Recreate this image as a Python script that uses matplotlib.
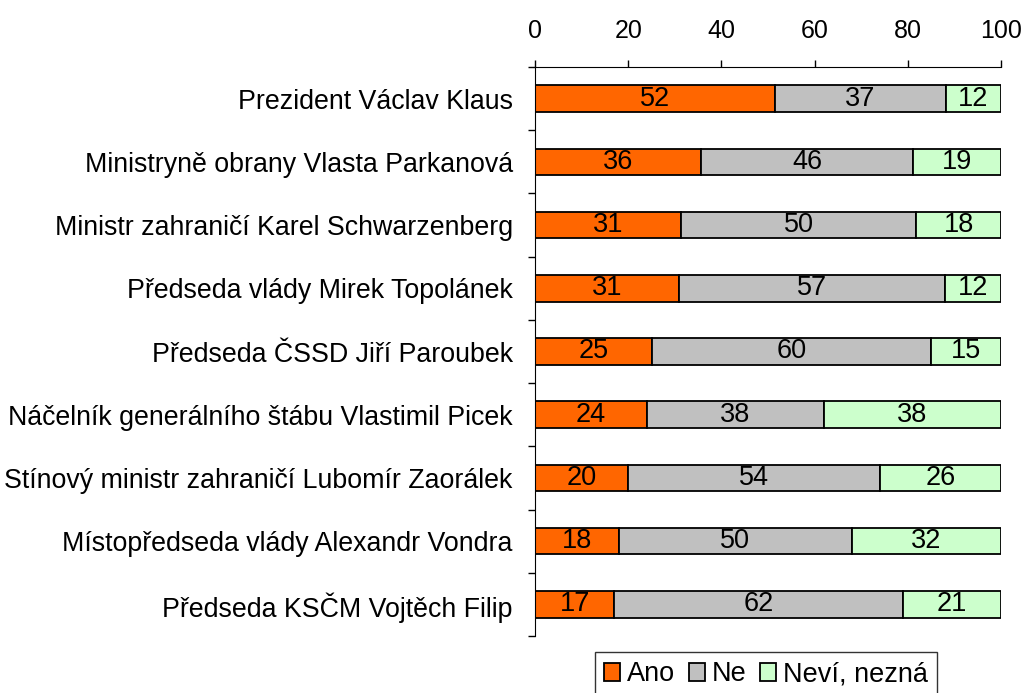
import numpy as np
import matplotlib.pyplot as plt
from matplotlib.ticker import MultipleLocator, FixedLocator

plt.rcParams['font.family'] = ['Liberation Sans', 'DejaVu Sans']

# data
people = ['Prezident Václav Klaus',
          'Ministryně obrany Vlasta Parkanová',
          'Ministr zahraničí Karel Schwarzenberg',
          'Předseda vlády Mirek Topolánek',
          'Předseda ČSSD Jiří Paroubek',
          'Náčelník generálního štábu Vlastimil Picek',
          'Stínový ministr zahraničí Lubomír Zaorálek',
          'Místopředseda vlády Alexandr Vondra',
          'Předseda KSČM Vojtěch Filip']
ano = [52, 36, 31, 31, 25, 24, 20, 18, 17]
ne = [37, 46, 50, 57, 60, 38, 54, 50, 62]
nevi = [12, 19, 18, 12, 15, 38, 26, 32, 21]
series = ['Ano', 'Ne', 'Neví, nezná']
colors = ['#FF6600', '#C0C0C0', '#CCFFCC']

fig = plt.figure(figsize=(10.27, 6.93), dpi=100)
ax = fig.add_axes([535/1027, 1-636/693, 466/1027, (636-67)/693])

vals = np.array([ano, ne, nevi], dtype=float)
pct = vals / vals.sum(axis=0) * 100  # 100% stacked
y = np.arange(len(people))
left = np.zeros(len(people))
for k in range(3):
    bars = ax.barh(y, pct[k], left=left, height=0.42, color=colors[k],
                   edgecolor='black', linewidth=1.3, label=series[k])
    for i, b in enumerate(bars):
        ax.text(left[i] + pct[k][i]/2, y[i], '%d' % vals[k][i],
                ha='center', va='center', fontsize=19.5)
    left += pct[k]

ax.set_xlim(0, 100)
ax.set_ylim(len(people) - 0.5, -0.5)
ax.xaxis.tick_top()
ax.xaxis.set_major_locator(MultipleLocator(20))
ax.tick_params(axis='x', labelsize=18, length=5, width=1, direction='out', pad=12)
ax.set_yticks(y)
ax.set_yticklabels(people, fontsize=19.3)
ax.tick_params(axis='y', which='major', length=0, pad=16)
ax.yaxis.set_minor_locator(FixedLocator(np.arange(len(people) + 1) - 0.5))
ax.tick_params(axis='y', which='minor', length=5, width=1, direction='out')
ax.spines['right'].set_visible(False)
ax.spines['bottom'].set_visible(False)

leg = ax.legend(loc='upper center', bbox_to_anchor=(766/1027, 1-652/693),
                bbox_transform=fig.transFigure, ncol=3, fontsize=19.5,
                frameon=True, fancybox=False, handlelength=0.6, handleheight=0.6,
                handletextpad=0.25, columnspacing=0.5, borderpad=0.35,
                borderaxespad=0)
leg.get_frame().set_edgecolor('black')
leg.get_frame().set_linewidth(1)

fig.savefig('out.png', dpi=100)
